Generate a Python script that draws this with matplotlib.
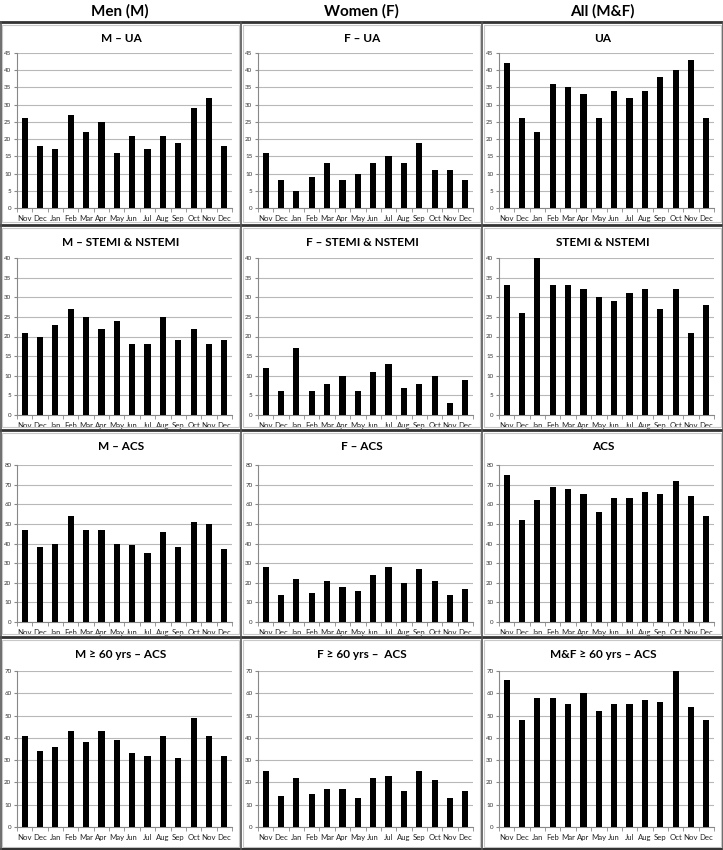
import matplotlib
matplotlib.use('Agg')
from matplotlib import pyplot as plt
from matplotlib.lines import Line2D
from matplotlib.patches import Rectangle
import numpy as np

plt.rcParams['font.family'] = ['Lato', 'DejaVu Sans']

months = ['Nov', 'Dec', 'Jan', 'Feb', 'Mar', 'Apr', 'May', 'Jun', 'Jul',
          'Aug', 'Sep', 'Oct', 'Nov', 'Dec']
col_heads = ['Men (M)', 'Women (F)', 'All (M&F)']

# UA
m_ua = [26, 18, 17, 27, 22, 25, 16, 21, 17, 21, 19, 29, 32, 18]
f_ua = [16, 8, 5, 9, 13, 8, 10, 13, 15, 13, 19, 11, 11, 8]
all_ua = [42, 26, 22, 36, 35, 33, 26, 34, 32, 34, 38, 40, 43, 26]
# STEMI & NSTEMI
m_stemi = [21, 20, 23, 27, 25, 22, 24, 18, 18, 25, 19, 22, 18, 19]
f_stemi = [12, 6, 17, 6, 8, 10, 6, 11, 13, 7, 8, 10, 3, 9]
all_stemi = [33, 26, 40, 33, 33, 32, 30, 29, 31, 32, 27, 32, 21, 28]
# ACS
m_acs = [47, 38, 40, 54, 47, 47, 40, 39, 35, 46, 38, 51, 50, 37]
f_acs = [28, 14, 22, 15, 21, 18, 16, 24, 28, 20, 27, 21, 14, 17]
all_acs = [75, 52, 62, 69, 68, 65, 56, 63, 63, 66, 65, 72, 64, 54]
# >= 60 yrs ACS
m_60 = [41, 34, 36, 43, 38, 43, 39, 33, 32, 41, 31, 49, 41, 32]
f_60 = [25, 14, 22, 15, 17, 17, 13, 22, 23, 16, 25, 21, 13, 16]
all_60 = [66, 48, 58, 58, 55, 60, 52, 55, 55, 57, 56, 70, 54, 48]

data = [[m_ua, f_ua, all_ua],
        [m_stemi, f_stemi, all_stemi],
        [m_acs, f_acs, all_acs],
        [m_60, f_60, all_60]]
titles = [['M – UA', 'F – UA', 'UA'],
          ['M – STEMI & NSTEMI', 'F – STEMI & NSTEMI', 'STEMI & NSTEMI'],
          ['M – ACS', 'F – ACS', 'ACS'],
          ['M ≥ 60 yrs – ACS', 'F ≥ 60 yrs –  ACS', 'M&F ≥ 60 yrs – ACS']]
ymax = [45, 40, 80, 70]
ystep = [5, 5, 10, 10]

W, H = 723, 850
fig = plt.figure(figsize=(W / 100, H / 100), dpi=100)

row_top = [22, 225, 430, 637]
row_bot = [225, 430, 637, 850]
plot_top = [53, 258, 465, 671]
plot_bot = [208, 415, 622, 827]
col_left = [0, 241, 482]


def fx(px):
    return px / W


def fy(py):
    return 1 - py / H


for c, head in enumerate(col_heads):
    fig.text(fx(col_left[c] + 120), fy(11), head, ha='center', va='center',
             fontsize=11, fontweight='bold')

for r in range(4):
    for c in range(3):
        x0 = col_left[c]
        # light chart-area frame
        fig.add_artist(Rectangle((fx(x0 + 2), fy(row_bot[r] - 3)),
                                 fx(237), (row_bot[r] - row_top[r] - 6) / H,
                                 transform=fig.transFigure, fill=False,
                                 edgecolor='#c8c8c8', lw=0.8))
        ax = fig.add_axes([fx(x0 + 17), fy(plot_bot[r]), fx(215),
                           (plot_bot[r] - plot_top[r]) / H])
        x = np.arange(len(months))
        ax.bar(x, data[r][c], width=0.4, color='black', zorder=3)
        ax.set_xlim(-0.5, len(months) - 0.5)
        ax.set_ylim(0, ymax[r])
        ax.set_yticks(np.arange(0, ymax[r] + 1, ystep[r]))
        ax.tick_params(axis='y', labelsize=4.5, length=2, color='#888888',
                       pad=2, labelcolor='#333333')
        ax.set_xticks(x)
        ax.set_xticklabels(months)
        ax.tick_params(axis='x', which='major', length=0, labelsize=5.6,
                       pad=5, labelcolor='#222222')
        ax.set_xticks(np.arange(-0.5, len(months)), minor=True)
        ax.tick_params(axis='x', which='minor', length=3, color='#888888')
        ax.yaxis.grid(True, color='#b8b8b8', lw=0.8, zorder=0)
        ax.set_axisbelow(True)
        for s in ['top', 'right']:
            ax.spines[s].set_visible(False)
        for s in ['left', 'bottom']:
            ax.spines[s].set_color('#888888')
            ax.spines[s].set_linewidth(0.8)
        fig.text(fx(x0 + 121), fy(row_top[r] + 17), titles[r][c],
                 ha='center', va='center', fontsize=8.5, fontweight='bold')

# grid dividers
for yy in row_top:
    fig.add_artist(Line2D([0, 1], [fy(yy), fy(yy)], transform=fig.transFigure,
                          color='#333333', lw=2))
fig.add_artist(Line2D([0, 1], [fy(849), fy(849)], transform=fig.transFigure,
                      color='#333333', lw=1.5))
for xx in [241, 482]:
    fig.add_artist(Line2D([fx(xx), fx(xx)], [fy(22), fy(850)],
                          transform=fig.transFigure, color='#555555', lw=1.2))
for xx in [0.5, 722.5]:
    fig.add_artist(Line2D([fx(xx), fx(xx)], [fy(22), fy(850)],
                          transform=fig.transFigure, color='#555555', lw=1.2))

fig.savefig('out.png', dpi=100)
